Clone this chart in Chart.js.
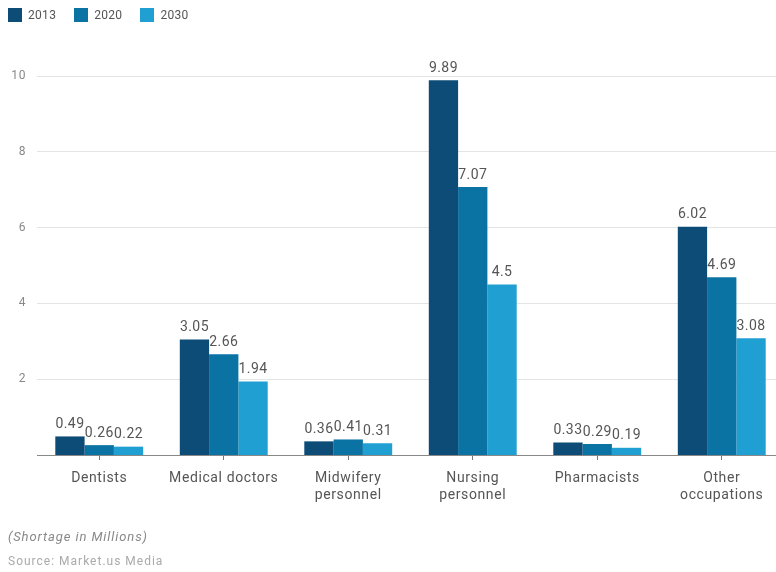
<!DOCTYPE html>
<html>
<head>
<meta charset="utf-8">
<script src="https://cdn.jsdelivr.net/npm/chart.js@4.4.0/dist/chart.umd.min.js"></script>
<style>
  html, body { margin:0; padding:0; background:#fff; overflow:hidden; width:776px; height:572px; font-family: Roboto, "Noto Sans", sans-serif; }
  #wrap { position:absolute; left:0; top:0; width:790px; height:572px; }
  #legend { position:absolute; left:8px; top:8px; display:flex; font-size:12px; color:#555; letter-spacing:0.3px; }
  .item { display:flex; align-items:center; margin-right:18px; }
  .sw { width:14px; height:14px; margin-right:6px; }
  #note { position:absolute; left:8px; top:529px; font-size:13px; font-style:italic; color:#888; letter-spacing:0.9px; }
  #src { position:absolute; left:8px; top:554px; font-size:12px; color:#aaa; letter-spacing:1px; }
</style>
</head>
<body>
<div id="wrap"><canvas id="c" width="790" height="572"></canvas></div>
<div id="legend"></div>
<div id="note">(Shortage in Millions)</div>
<div id="src">Source: Market.us Media</div>
<script>
const categories = [["Dentists"], ["Medical doctors"], ["Midwifery", "personnel"], ["Nursing", "personnel"], ["Pharmacists"], ["Other", "occupations"]];
const seriesNames = ["2013", "2020", "2030"];
const values2013 = [0.49, 3.05, 0.36, 9.89, 0.33, 6.02];
const values2020 = [0.26, 2.66, 0.41, 7.07, 0.29, 4.69];
const values2030 = [0.22, 1.94, 0.31, 4.5, 0.19, 3.08];
const yTicks = [2, 4, 6, 8, 10];
const colors = ["#0c4c77", "#0a73a4", "#1f9fd2"];

const lg = document.getElementById('legend');
seriesNames.forEach((n, i) => {
  const d = document.createElement('div'); d.className = 'item';
  d.innerHTML = '<div class="sw" style="background:' + colors[i] + '"></div><span>' + n + '</span>';
  lg.appendChild(d);
});

const spacingPlugin = {
  id: 'spacing',
  beforeDraw(chart) { chart.ctx.letterSpacing = '0.6px'; }
};

const labelPlugin = {
  id: 'barLabels',
  afterDatasetsDraw(chart) {
    const ctx = chart.ctx;
    ctx.save();
    ctx.letterSpacing = '0.4px';
    ctx.font = '14px Roboto, "Noto Sans", sans-serif';
    ctx.fillStyle = '#555';
    ctx.textAlign = 'center';
    ctx.textBaseline = 'bottom';
    chart.data.datasets.forEach((ds, di) => {
      chart.getDatasetMeta(di).data.forEach((el, i) => {
        ctx.fillText(String(ds.data[i]), el.x, el.y - 5);
      });
    });
    ctx.restore();
  }
};

new Chart(document.getElementById('c'), {
  type: 'bar',
  data: {
    labels: categories,
    datasets: [
      { label: seriesNames[0], data: values2013, backgroundColor: colors[0] },
      { label: seriesNames[1], data: values2020, backgroundColor: colors[1] },
      { label: seriesNames[2], data: values2030, backgroundColor: colors[2] }
    ]
  },
  options: {
    responsive: false,
    animation: false,
    events: [],
    layout: { padding: { top: 76, right: 6, left: 0, bottom: 0 } },
    datasets: { bar: { categoryPercentage: 0.706, barPercentage: 1.0 } },
    plugins: { legend: { display: false }, tooltip: { enabled: false } },
    scales: {
      x: {
        grid: { display: true, drawOnChartArea: false, drawTicks: true, tickLength: 5, offset: false, color: '#777' },
        border: { color: '#888', width: 1 },
        ticks: { color: '#555', font: { size: 14, family: 'Roboto', lineHeight: 1.2 }, padding: 10, maxRotation: 0, autoSkip: false },
        afterFit: s => { s.height = 117; }
      },
      y: {
        min: 0, max: 10,
        afterBuildTicks: s => { s.ticks = yTicks.map(v => ({ value: v })); },
        grid: { color: '#e4e4e4', drawTicks: false },
        border: { display: false },
        ticks: { color: '#888', font: { size: 12, family: 'Roboto' }, padding: 11 },
        afterFit: s => { s.width = 37; }
      }
    }
  },
  plugins: [spacingPlugin, labelPlugin]
});
</script>
</body>
</html>
